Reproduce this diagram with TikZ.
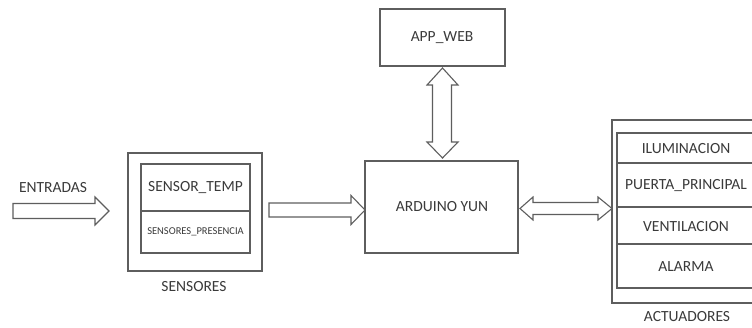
\documentclass[tikz,border=0pt]{standalone}
\usepackage{fontspec}
\setmainfont{Carlito}
\definecolor{ln}{HTML}{5E5E5E}
\definecolor{tx}{HTML}{3A3A3A}
\tikzset{
  box/.style={draw=ln, line width=1.2pt, fill=white, rectangle, inner sep=0pt},
  lbl/.style={text=tx, font=\fontsize{15.5}{18}\selectfont, inner sep=0pt},
  small/.style={text=tx, font=\fontsize{10.5}{12}\selectfont, inner sep=0pt},
  blk/.style={draw=ln, line width=1.1pt, fill=white, line join=miter}
}
\begin{document}
\begin{tikzpicture}[x=1pt,y=-1pt]
\clip (0,0) rectangle (752,327);
\fill[white] (0,0) rectangle (752,327);

% boxes
\node[box, minimum width=125pt, minimum height=57pt] (app) at (442.5,37.5) {};
\node[lbl] (appl) at (442,38) {APP\_WEB};
\node[box, minimum width=153pt, minimum height=92pt] (ard) at (441.5,207) {};
\node[lbl] (ardl) at (442,207) {ARDUINO YUN};

\node[box, minimum width=134pt, minimum height=118pt] (sens) at (195,212) {};
\node[box, minimum width=109pt, minimum height=47pt] (stemp) at (195.5,187.5) {};
\node[box, minimum width=109pt, minimum height=42pt] (spres) at (195.5,232) {};
\node[lbl] (stempl) at (stemp) {SENSOR\_TEMP};
\node[small] (spresl) at (spres) {SENSORES\_PRESENCIA};
\node[lbl] (sensl) at (194,287) {SENSORES};

\node[box, minimum width=158pt, minimum height=183pt] (act) at (691,211.5) {};
\node[box, minimum width=139pt, minimum height=30pt] (ilu) at (686.5,148) {};
\node[box, minimum width=139pt, minimum height=44pt] (pue) at (686.5,185) {};
\node[box, minimum width=139pt, minimum height=37pt] (ven) at (686.5,225.5) {};
\node[box, minimum width=139pt, minimum height=44pt] (ala) at (686.5,266) {};
\node[lbl] (ilul) at (686,149) {ILUMINACION};
\node[lbl] (puel) at (686,186) {PUERTA\_PRINCIPAL};
\node[lbl] (venl) at (686,227) {VENTILACION};
\node[lbl] (alal) at (686,267) {ALARMA};
\node[lbl] (actl) at (687,317) {ACTUADORES};

\node[lbl] (ent) at (53,188) {ENTRADAS};

% block arrows
\draw[blk] (13,203.5) -- (95,203.5) -- (95,197) -- (109,211) -- (95,225) -- (95,218.5) -- (13,218.5) -- cycle;
\draw[blk] (269,203) -- (351,203) -- (351,195.5) -- (365,210) -- (351,224.5) -- (351,217) -- (269,217) -- cycle;
\draw[blk] (520,208.5) -- (533,197) -- (533,202.5) -- (598,202.5) -- (598,197) -- (612,208.5) -- (598,220) -- (598,214.5) -- (533,214.5) -- (533,220) -- cycle;
\draw[blk] (442.5,68) -- (458,85) -- (451.5,85) -- (451.5,142) -- (458,142) -- (442.5,158) -- (427,142) -- (432.5,142) -- (432.5,85) -- (427,85) -- cycle;
\end{tikzpicture}
\end{document}
